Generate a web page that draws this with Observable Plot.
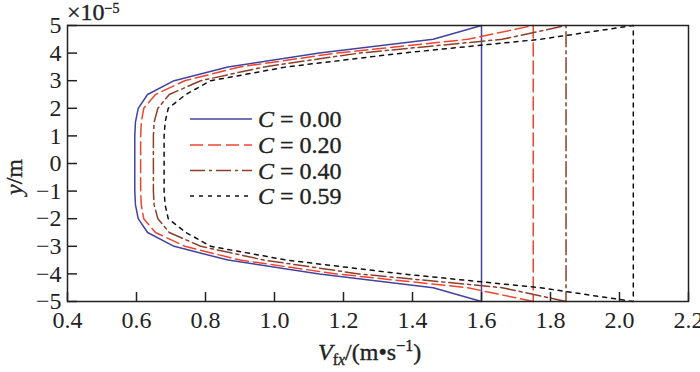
<!DOCTYPE html>
<html>
<head>
<meta charset="utf-8">
<script src="https://cdn.jsdelivr.net/npm/d3@7"></script>
<script src="https://cdn.jsdelivr.net/npm/@observablehq/plot@0.6"></script>
<style>
  html, body { margin: 0; padding: 0; background: #fff; overflow: hidden; }
  #chart { width: 700px; height: 372px; }
  #chart svg { display: block; }
</style>
</head>
<body>
<div id="chart"></div>
<script>
// y positions (×10^-5 m)
const yVals = [-5, -4.5, -4, -3.5, -3, -2.5, -2, -1.5, -1, -0.5, 0, 0.5, 1, 1.5, 2, 2.5, 3, 3.5, 4, 4.5, 5];
// velocity V_fx (m/s) at each y, for each C
const vC000 = [1.60, 1.46, 1.13, 0.865, 0.709, 0.632, 0.605, 0.597, 0.595, 0.595, 0.595, 0.595, 0.595, 0.597, 0.605, 0.632, 0.709, 0.865, 1.13, 1.46, 1.60];
const vC020 = [1.75, 1.56, 1.18, 0.90, 0.74, 0.655, 0.621, 0.614, 0.612, 0.612, 0.612, 0.612, 0.612, 0.614, 0.621, 0.655, 0.74, 0.90, 1.18, 1.56, 1.75];
const vC040 = [1.845, 1.66, 1.245, 0.97, 0.786, 0.695, 0.662, 0.651, 0.649, 0.649, 0.649, 0.649, 0.649, 0.651, 0.662, 0.695, 0.786, 0.97, 1.245, 1.66, 1.845];
const vC059 = [2.04, 1.77, 1.37, 1.035, 0.815, 0.743, 0.692, 0.683, 0.68, 0.68, 0.68, 0.68, 0.68, 0.683, 0.692, 0.743, 0.815, 1.035, 1.37, 1.77, 2.04];
const seriesNames = ["0.00", "0.20", "0.40", "0.59"];
const xTicks = [0.4, 0.6, 0.8, 1.0, 1.2, 1.4, 1.6, 1.8, 2.0, 2.2];
const yTicks = [-5, -4, -3, -2, -1, 0, 1, 2, 3, 4, 5];

const styles = [
  {stroke: "#4044a0", dash: null},
  {stroke: "#f0442e", dash: "13,5"},
  {stroke: "#8e3f2c", dash: "15,4,3,4"},
  {stroke: "#111111", dash: "4,5"}
];
const seriesValues = [vC000, vC020, vC040, vC059];
const series = seriesNames.map((name, k) => {
  const vals = seriesValues[k];
  const pts = yVals.map((y, i) => ({x: vals[i], y}));
  pts.push({x: vals[0], y: yVals[0]}); // closing vertical line
  return {name, pts, ...styles[k]};
});

const W = 700, H = 372, mL = 67, mR = 12, mT = 25, mB = 71;
const plotW = W - mL - mR, plotH = H - mT - mB;
const FONT = "'Liberation Serif', 'Times New Roman', serif";

const plot = Plot.plot({
  width: W, height: H,
  marginLeft: mL, marginRight: mR, marginTop: mT, marginBottom: mB,
  style: {fontFamily: FONT, fontSize: "24px", color: "#222", background: "#fff"},
  x: {domain: [0.4, 2.2]},
  y: {domain: [-5, 5]},
  marks: [
    ...series.map(s => Plot.line(s.pts, {x: "x", y: "y", stroke: s.stroke, strokeWidth: 1.5, strokeDasharray: s.dash, strokeLinejoin: "round"})),
    Plot.tickX(xTicks, {x: d => d, insetTop: plotH - 9, stroke: "#222", strokeWidth: 1.5}),
    Plot.tickY(yTicks, {y: d => d, insetRight: plotW - 10, stroke: "#222", strokeWidth: 1.5}),
    Plot.axisX(xTicks, {tickSize: 0, tickPadding: 9, tickFormat: d3.format(".1f"), label: null, stroke: "#222", strokeWidth: 0.35}),
    Plot.axisY(yTicks, {tickSize: 0, tickPadding: 6, tickFormat: d3.format("d"), label: null, stroke: "#222", strokeWidth: 0.35}),
    Plot.frame({stroke: "#222", strokeWidth: 1.5})
  ]
});
document.getElementById("chart").appendChild(plot);

const svg = d3.select(plot);
const txt = (sel) => sel.attr("text-anchor", "start")
  .style("font-family", FONT).style("font-size", "24px")
  .attr("fill", "#222").attr("stroke", "#222").attr("stroke-width", 0.35);

// exponent label
const ex = txt(svg.append("text").attr("x", 67).attr("y", 20));
ex.append("tspan").text("×10");
ex.append("tspan").attr("dy", -7).style("font-size", "14px").text("−5");

// y label
const yl = txt(svg.append("text").attr("transform", "translate(22,177) rotate(-90)"))
  .attr("text-anchor", "middle");
yl.append("tspan").style("font-style", "italic").text("y");
yl.append("tspan").text("/m");

// x label
const xl = txt(svg.append("text").attr("x", 318).attr("y", 360));
xl.append("tspan").style("font-style", "italic").text("V");
xl.append("tspan").attr("dy", 5).style("font-size", "16px").text("f");
xl.append("tspan").style("font-size", "16px").style("font-style", "italic").text("x");
xl.append("tspan").attr("dy", -5).text("/(m•s");
xl.append("tspan").attr("dy", -9).style("font-size", "16px").text("−1");
xl.append("tspan").attr("dy", 9).text(")");

// legend
const legY = [119, 145, 170.5, 196];
series.forEach((s, k) => {
  const g = svg.append("g");
  g.append("line").attr("x1", 190).attr("x2", 252).attr("y1", legY[k]).attr("y2", legY[k])
    .attr("stroke", s.stroke).attr("stroke-width", 1.5)
    .attr("stroke-dasharray", s.dash);
  const t = txt(g.append("text").attr("x", 258).attr("y", legY[k] + 8));
  t.append("tspan").style("font-style", "italic").text("C");
  t.append("tspan").text(" = " + s.name);
});
</script>
</body>
</html>
